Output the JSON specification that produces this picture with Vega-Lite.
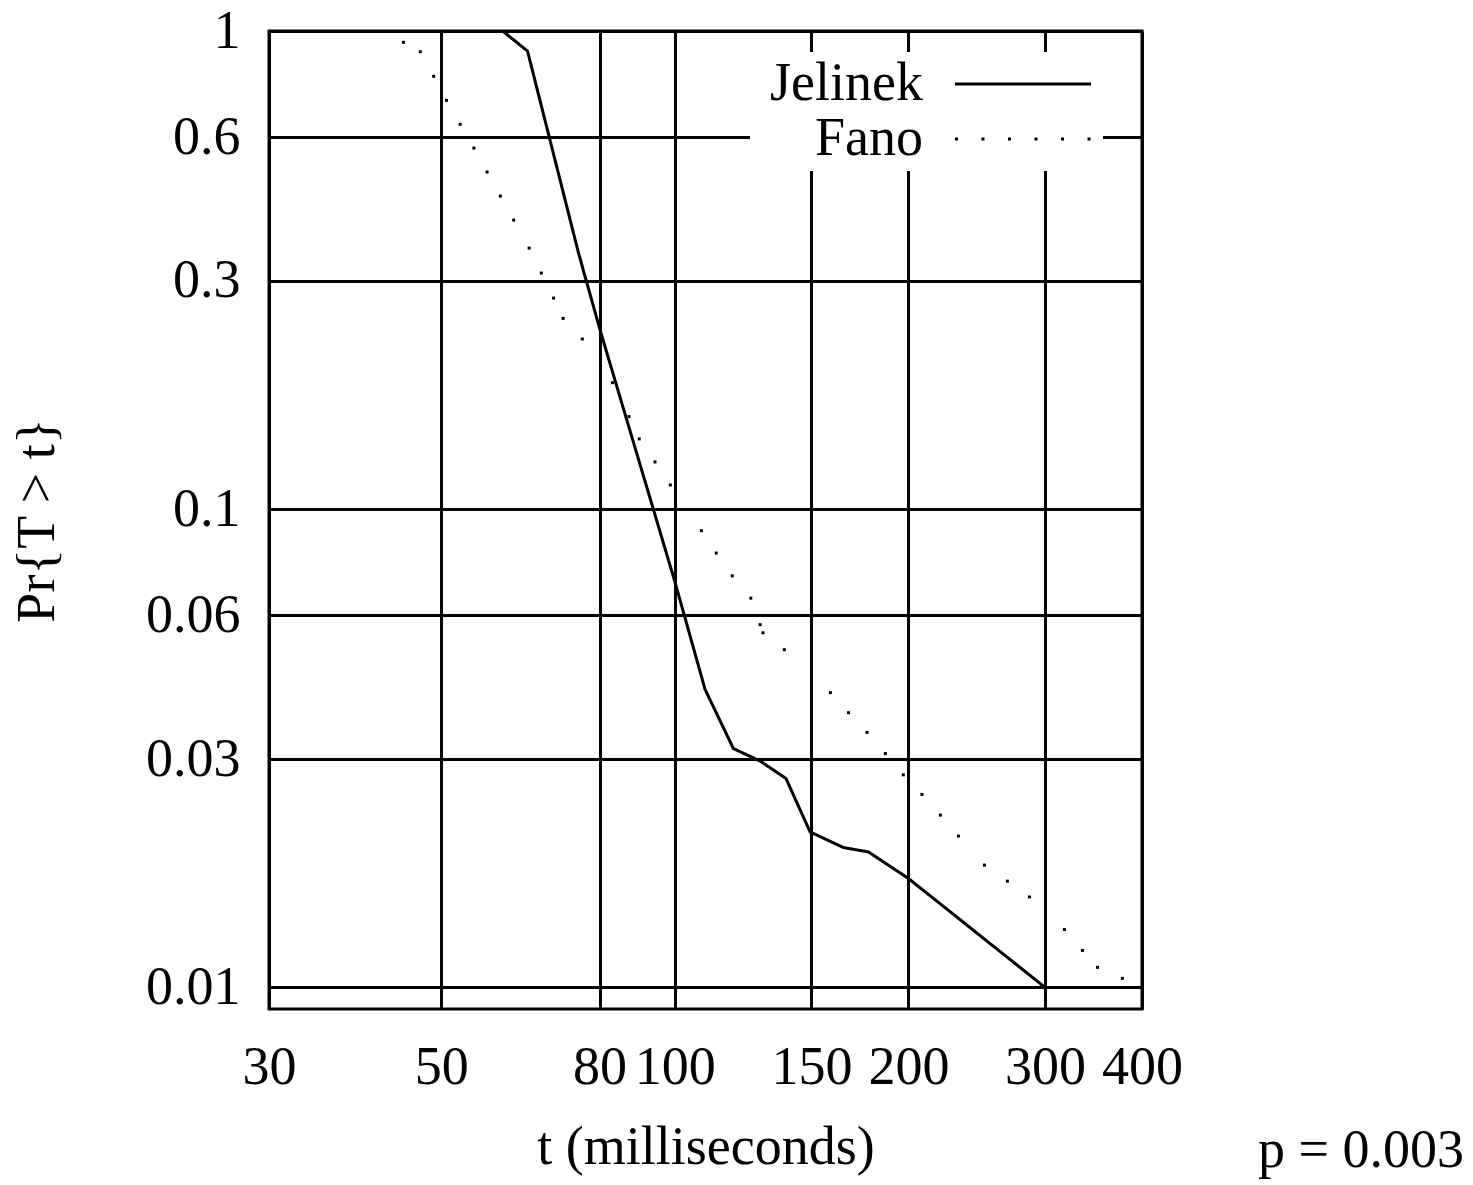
{
  "$schema": "https://vega.github.io/schema/vega-lite/v6.json",
  "width": 873,
  "height": 978,
  "autosize": {"type": "none"},
  "padding": {"left": 269, "top": 31, "right": 331, "bottom": 176},
  "background": "white",
  "title": {"text": "p = 0.003", "orient": "bottom", "anchor": "end", "frame": "group", "font": "Liberation Serif", "fontSize": 54, "fontWeight": "normal", "color": "black", "dx": 322, "dy": -54},
  "data": {
    "values": [
      {"series": "Jelinek", "t": 60.0, "p": 1.0},
      {"series": "Jelinek", "t": 64.6, "p": 0.908},
      {"series": "Jelinek", "t": 75.2, "p": 0.342},
      {"series": "Jelinek", "t": 80.1, "p": 0.2372},
      {"series": "Jelinek", "t": 100.1, "p": 0.0702},
      {"series": "Jelinek", "t": 109.4, "p": 0.04196},
      {"series": "Jelinek", "t": 119.0, "p": 0.03155},
      {"series": "Jelinek", "t": 128.8, "p": 0.02972},
      {"series": "Jelinek", "t": 139.1, "p": 0.02731},
      {"series": "Jelinek", "t": 149.4, "p": 0.02112},
      {"series": "Jelinek", "t": 164.9, "p": 0.01959},
      {"series": "Jelinek", "t": 177.6, "p": 0.01918},
      {"series": "Jelinek", "t": 200.0, "p": 0.01688},
      {"series": "Jelinek", "t": 299.0, "p": 0.01003},
      {"series": "Fano", "t": 44.7, "p": 0.947},
      {"series": "Fano", "t": 47.0, "p": 0.905},
      {"series": "Fano", "t": 48.9, "p": 0.804},
      {"series": "Fano", "t": 50.8, "p": 0.716},
      {"series": "Fano", "t": 52.9, "p": 0.638},
      {"series": "Fano", "t": 55.1, "p": 0.569},
      {"series": "Fano", "t": 57.3, "p": 0.507},
      {"series": "Fano", "t": 59.6, "p": 0.4515},
      {"series": "Fano", "t": 62.0, "p": 0.4022},
      {"series": "Fano", "t": 64.9, "p": 0.3515},
      {"series": "Fano", "t": 67.3, "p": 0.3117},
      {"series": "Fano", "t": 69.8, "p": 0.2763},
      {"series": "Fano", "t": 71.8, "p": 0.2505},
      {"series": "Fano", "t": 76.0, "p": 0.2268},
      {"series": "Fano", "t": 83.1, "p": 0.1838},
      {"series": "Fano", "t": 87.3, "p": 0.1561},
      {"series": "Fano", "t": 90.0, "p": 0.1402},
      {"series": "Fano", "t": 94.3, "p": 0.1255},
      {"series": "Fano", "t": 98.7, "p": 0.1123},
      {"series": "Fano", "t": 108.2, "p": 0.0901},
      {"series": "Fano", "t": 113.1, "p": 0.0809},
      {"series": "Fano", "t": 118.6, "p": 0.0725},
      {"series": "Fano", "t": 125.3, "p": 0.0651},
      {"series": "Fano", "t": 128.8, "p": 0.0573},
      {"series": "Fano", "t": 129.9, "p": 0.0551},
      {"series": "Fano", "t": 138.4, "p": 0.0508},
      {"series": "Fano", "t": 158.7, "p": 0.0413},
      {"series": "Fano", "t": 167.4, "p": 0.0375},
      {"series": "Fano", "t": 176.9, "p": 0.0341},
      {"series": "Fano", "t": 186.8, "p": 0.0308},
      {"series": "Fano", "t": 197.0, "p": 0.0278},
      {"series": "Fano", "t": 208.2, "p": 0.0253},
      {"series": "Fano", "t": 219.9, "p": 0.0229},
      {"series": "Fano", "t": 232.0, "p": 0.0207},
      {"series": "Fano", "t": 250.6, "p": 0.018},
      {"series": "Fano", "t": 268.3, "p": 0.01666},
      {"series": "Fano", "t": 286.4, "p": 0.01544},
      {"series": "Fano", "t": 317.7, "p": 0.0132},
      {"series": "Fano", "t": 335.2, "p": 0.01193},
      {"series": "Fano", "t": 350.5, "p": 0.011},
      {"series": "Fano", "t": 377.4, "p": 0.01043}
    ]
  },
  "layer": [
    {
      "transform": [{"filter": "datum.series === 'Jelinek'"}],
      "mark": {"type": "line", "color": "black", "strokeWidth": 3, "clip": true},
      "encoding": {
        "x": {
          "field": "t", "type": "quantitative",
          "scale": {"type": "log", "domain": [30, 400], "nice": false},
          "axis": {
            "values": [30, 50, 80, 100, 150, 200, 300, 400], "format": "~g",
            "title": "t (milliseconds)",
            "grid": true, "gridColor": "black", "gridWidth": 3, "gridOpacity": 1,
            "domain": false, "ticks": false,
            "labelFont": "Liberation Serif", "labelFontSize": 54, "labelColor": "black",
            "labelPadding": 31, "labelFlush": false, "labelOverlap": false,
            "titleFont": "Liberation Serif", "titleFontSize": 54, "titleFontWeight": "normal",
            "titleColor": "black", "titlePadding": 26
          }
        },
        "y": {
          "field": "p", "type": "quantitative",
          "scale": {"type": "log", "domain": [0.009, 1], "nice": false},
          "axis": {
            "values": [0.01, 0.03, 0.06, 0.1, 0.3, 0.6, 1], "format": "~g",
            "title": "Pr{T > t}",
            "grid": true, "gridColor": "black", "gridWidth": 3, "gridOpacity": 1,
            "domain": false, "ticks": false,
            "labelFont": "Liberation Serif", "labelFontSize": 54, "labelColor": "black",
            "labelPadding": 29, "labelFlush": false, "labelOverlap": false,
            "titleFont": "Liberation Serif", "titleFontSize": 54, "titleFontWeight": "normal",
            "titleColor": "black", "titlePadding": 81
          }
        },
        "strokeDash": {
          "field": "series", "type": "nominal",
          "scale": {"domain": ["Jelinek", "Fano"], "range": [[1, 0], [3, 23.5]]},
          "legend": {
            "title": null, "orient": "none", "legendX": 481, "legendY": 21,
            "fillColor": "white", "padding": 5,
            "symbolType": "M-5,0L5,0", "symbolSize": 740, "symbolStrokeWidth": 3,
            "symbolStrokeColor": "black", "symbolFillColor": "transparent", "symbolOffset": 241,
            "labelAlign": "right", "labelOffset": -127, "labelBaseline": "middle",
            "labelFont": "Liberation Serif", "labelFontSize": 54, "labelColor": "black",
            "labelLimit": 0, "rowPadding": 1
          }
        }
      }
    },
    {
      "transform": [{"filter": "datum.series === 'Fano'"}],
      "mark": {"type": "point", "shape": "square", "filled": true, "color": "black", "size": 9, "opacity": 1},
      "encoding": {
        "x": {"field": "t", "type": "quantitative"},
        "y": {"field": "p", "type": "quantitative"}
      }
    }
  ],
  "config": {"view": {"stroke": "black", "strokeWidth": 3}}
}
